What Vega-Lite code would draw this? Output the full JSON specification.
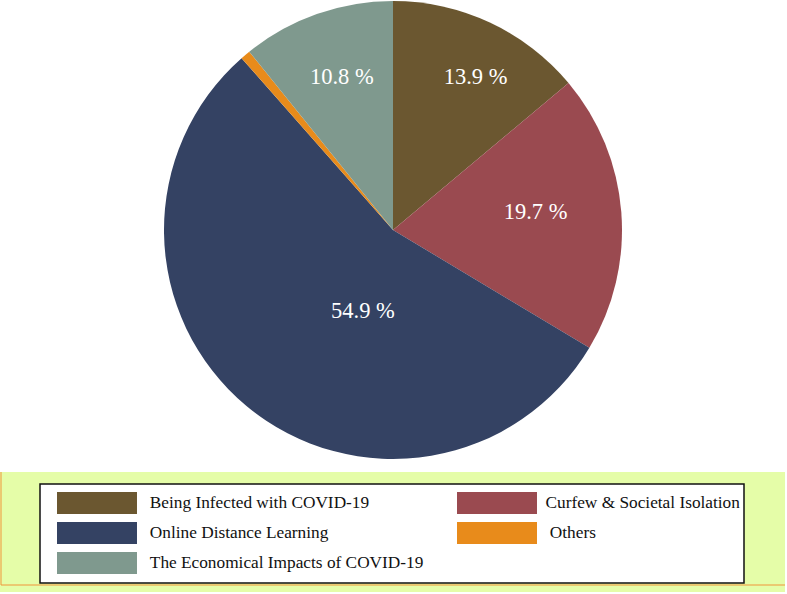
{
 "$schema":"https://vega.github.io/schema/vega-lite/v6.json",
 "width":787,"height":594,"padding":0,"autosize":{"type":"none"},
 "background":"white",
 "view":{"stroke":null},
 "datasets":{"shares":[
  {"category":"Being Infected with COVID-19","value":13.9,"label":"13.9 %"},
  {"category":"Curfew & Societal Isolation","value":19.7,"label":"19.7 %"},
  {"category":"Online Distance Learning","value":54.9,"label":"54.9 %"},
  {"category":"Others","value":0.7,"label":""},
  {"category":"The Economical Impacts of COVID-19","value":10.8,"label":"10.8 %"}
 ]},
 "layer":[
  {"data":{"values":[{"a":0,"b":785,"c":472,"d":592}]},
   "mark":{"type":"rect","fill":"#E5FDA8"},
   "encoding":{
    "x":{"field":"a","type":"quantitative","scale":{"domain":[0,787],"range":[0,787],"nice":false},"axis":null},
    "x2":{"field":"b"},
    "y":{"field":"c","type":"quantitative","scale":{"domain":[0,594],"range":[0,594],"nice":false},"axis":null},
    "y2":{"field":"d"}}},
  {"data":{"values":[{"a":1,"b":1,"c":472,"d":585},{"a":1,"b":785,"c":585,"d":585}]},
   "mark":{"type":"rule","stroke":"#F0953A","strokeWidth":1},
   "encoding":{"x":{"field":"a","type":"quantitative"},"x2":{"field":"b"},"y":{"field":"c","type":"quantitative"},"y2":{"field":"d"}}},
  {"data":{"values":[{"a":40,"b":744,"c":484,"d":583}]},
   "mark":{"type":"rect","fill":"white","stroke":"#111111","strokeWidth":1.5},
   "encoding":{"x":{"field":"a","type":"quantitative"},"x2":{"field":"b"},"y":{"field":"c","type":"quantitative"},"y2":{"field":"d"}}},
  {"data":{"name":"shares"},
   "mark":{"type":"arc","outerRadius":229,"x":393,"y":230,"stroke":null},
   "encoding":{
    "theta":{"field":"value","type":"quantitative","stack":true,"scale":{"domain":[0,100],"range":[0,6.2832]}},
    "order":{"field":"category"},
    "color":{"field":"category","type":"nominal",
     "scale":{"domain":["Being Infected with COVID-19","Online Distance Learning","The Economical Impacts of COVID-19","Curfew & Societal Isolation","Others"],
              "range":["#6B5730","#344263","#7F998E","#9A4A50","#E88B1B"]},
     "legend":{"title":null,"orient":"none","legendX":86,"legendY":492,"columns":2,"columnPadding":33,"rowPadding":8,
       "symbolType":"M-3.636,-1H3.636V1H-3.636Z","symbolSize":484,"symbolStrokeWidth":0,"symbolOpacity":1,
       "labelFont":"Liberation Serif","labelFontSize":17.3,"labelColor":"#111111","labelOffset":37.5,"labelLimit":400,
       "labelExpr":"datum.label === 'Curfew & Societal Isolation' ? datum.label : '\u200b\u00a0' + datum.label"}}}},
  {"data":{"name":"shares"},"mark":{"type":"text","x":393,"y":230,"radius":174,"dx":9,"dy":5,"font":"Liberation Serif","fontSize":22.5,"fill":"white"},
   "encoding":{"theta":{"field":"value","type":"quantitative","stack":true},"order":{"field":"category"},
    "text":{"condition":{"test":"datum.category === 'Being Infected with COVID-19'","field":"label"},"value":""}}},
  {"data":{"name":"shares"},"mark":{"type":"text","x":393,"y":230,"radius":143,"dx":0,"dy":-7,"font":"Liberation Serif","fontSize":22.5,"fill":"white"},
   "encoding":{"theta":{"field":"value","type":"quantitative","stack":true},"order":{"field":"category"},
    "text":{"condition":{"test":"datum.category === 'Curfew & Societal Isolation'","field":"label"},"value":""}}},
  {"data":{"name":"shares"},"mark":{"type":"text","x":393,"y":230,"radius":86,"dx":25,"dy":15,"font":"Liberation Serif","fontSize":22.5,"fill":"white"},
   "encoding":{"theta":{"field":"value","type":"quantitative","stack":true},"order":{"field":"category"},
    "text":{"condition":{"test":"datum.category === 'Online Distance Learning'","field":"label"},"value":""}}},
  {"data":{"name":"shares"},"mark":{"type":"text","x":393,"y":230,"radius":160,"dx":2,"dy":-2,"font":"Liberation Serif","fontSize":22.5,"fill":"white"},
   "encoding":{"theta":{"field":"value","type":"quantitative","stack":true},"order":{"field":"category"},
    "text":{"condition":{"test":"datum.category === 'The Economical Impacts of COVID-19'","field":"label"},"value":""}}}
 ]
}
